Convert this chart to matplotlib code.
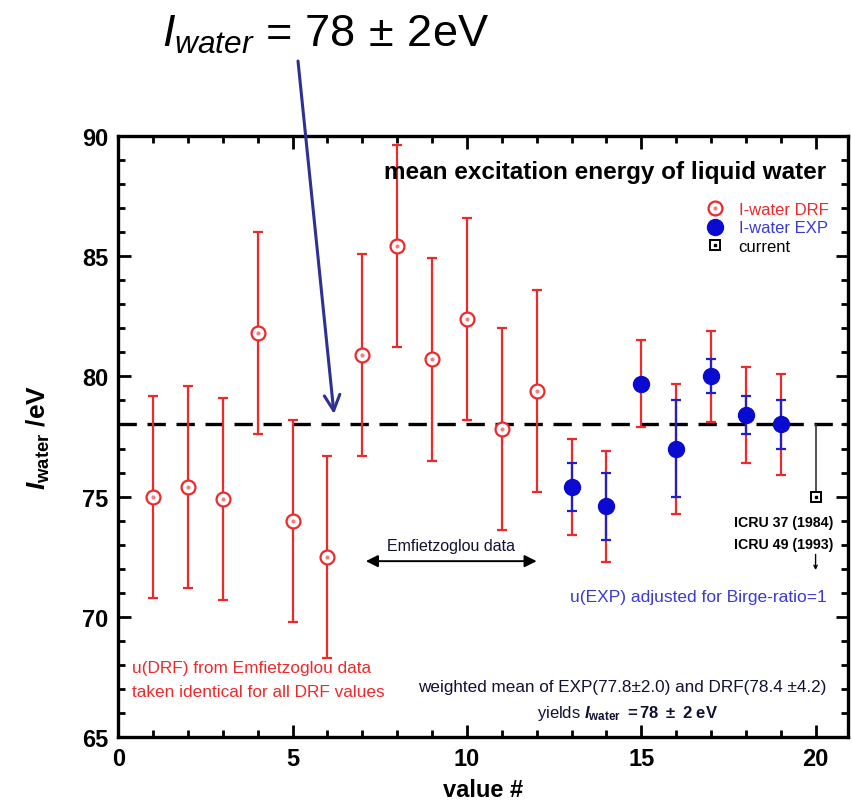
import matplotlib
matplotlib.use("Agg")
import matplotlib.pyplot as plt
from matplotlib.lines import Line2D
import numpy as np

plt.rcParams['font.family'] = ['Liberation Sans', 'DejaVu Sans']
plt.rcParams['mathtext.fontset'] = 'custom'
plt.rcParams['mathtext.rm'] = 'Liberation Sans'
plt.rcParams['mathtext.it'] = 'Liberation Sans:italic'
plt.rcParams['mathtext.bf'] = 'Liberation Sans:bold'
plt.rcParams['mathtext.bfit'] = 'Liberation Sans:italic:bold'

# ---- data ----
drf_x = [1, 2, 3, 4, 5, 6, 7, 8, 9, 10, 11, 12]
drf_y = [75.0, 75.4, 74.9, 81.8, 74.0, 72.5, 80.9, 85.4, 80.7, 82.4, 77.8, 79.4]
drf_err = [4.2] * 12

exp_x = [13, 14, 15, 16, 17, 18, 19]
exp_y = [75.4, 74.6, 79.7, 77.0, 80.0, 78.4, 78.0]
exp_err_total = [2.0, 2.3, 1.8, 2.7, 1.9, 2.0, 2.1]
exp_err_exp = [1.0, 1.4, 0.15, 2.0, 0.7, 0.8, 1.0]

cur_x = [20]
cur_y = [75.0]
cur_err_up = [3.0]

mean_value = 78.0

xticks = [0, 5, 10, 15, 20]
yticks = [65, 70, 75, 80, 85, 90]

RED = '#ec2a2c'
BLUE = '#0a0ad0'
TXTBLUE = '#3a3ad4'

fig = plt.figure(figsize=(8.52, 8.04), dpi=100)
ax = fig.add_axes([118.3/852, 1-738.3/804, (848-118.3)/852, (738.3-136.7)/804])
ax.set_xlim(0, 20.93)
ax.set_ylim(65, 90)

# mean line
ax.axhline(mean_value, color='black', lw=2.4, dashes=(5.5, 3.2), zorder=1)

# DRF
ax.errorbar(drf_x, drf_y, yerr=drf_err, fmt='o', color=RED, ecolor=RED, elinewidth=1.6,
            capsize=3.5, capthick=1.6, mfc='white', mec=RED, mew=1.6, ms=10, zorder=3)
ax.plot(drf_x, drf_y, 'o', color='#f08080', ms=2, zorder=4)

# EXP
ax.errorbar(exp_x, exp_y, yerr=exp_err_total, fmt='none', ecolor=RED, elinewidth=1.6,
            capsize=3.5, capthick=1.6, zorder=2)
ax.errorbar(exp_x, exp_y, yerr=exp_err_exp, fmt='none', ecolor='#2020c8', elinewidth=1.6,
            capsize=3.5, capthick=1.6, zorder=3)
ax.plot(exp_x, exp_y, 'o', color=BLUE, ms=11.5, zorder=4)

# current
ax.errorbar(cur_x, cur_y, yerr=[[0], cur_err_up], fmt='s', color='#222222', ecolor='#333333',
            elinewidth=1.2, capsize=0, mfc='white', mec='black', mew=1.4, ms=7, zorder=3)
ax.plot(cur_x, cur_y, 's', color='black', ms=1.8, zorder=4)

# ticks / spines
for s in ax.spines.values():
    s.set_linewidth(2.4)
ax.set_xticks(xticks)
ax.set_yticks(yticks)
ax.set_xticks(np.arange(0, 21, 1), minor=True)
ax.set_yticks(np.arange(65, 91, 1), minor=True)
ax.tick_params(which='both', direction='in', top=True, right=True, width=2)
ax.tick_params(which='major', length=9, labelsize=17, pad=7)
ax.tick_params(which='minor', length=5)
for lab in ax.get_xticklabels() + ax.get_yticklabels():
    lab.set_fontweight('bold')

ax.set_xlabel('value #', fontsize=17, fontweight='bold', labelpad=6)
ax.set_ylabel(r'$\mathbfit{I}_{\mathbf{water}}$ $\mathbf{/eV}$', fontsize=19, labelpad=22)

# title inside
ax.text(20.3, 88.5, 'mean excitation energy of liquid water', ha='right', va='center',
        fontsize=17.5, fontweight='bold')

# legend
h_drf = (Line2D([], [], ls='none', marker='o', mfc='white', mec=RED, mew=1.6, ms=10),
         Line2D([], [], ls='none', marker='o', color='#f08080', ms=2))
h_exp = Line2D([], [], ls='none', marker='o', color=BLUE, ms=11.5)
h_cur = (Line2D([], [], ls='none', marker='s', mfc='white', mec='black', mew=1.4, ms=7),
         Line2D([], [], ls='none', marker='s', color='black', ms=1.8))
fig.legend([h_drf, h_exp, h_cur], ['I-water DRF', 'I-water EXP', 'current'],
           loc='upper left', bbox_to_anchor=(707/852, 1-203/804), frameon=False,
           fontsize=12, handlelength=1.0, handletextpad=0.9, labelspacing=0.2,
           borderpad=0, borderaxespad=0, labelcolor=[RED, TXTBLUE, 'black'])

# annotations
ax.text(0.4, 67.9, 'u(DRF) from Emfietzoglou data', color=RED, fontsize=12.4, ha='left', va='center')
ax.text(0.4, 66.9, 'taken identical for all DRF values', color=RED, fontsize=12.4, ha='left', va='center')
ax.text(9.55, 72.95, 'Emfietzoglou data', ha='center', va='center', fontsize=11.5, color='#111133')
ax.annotate('', xy=(7.1, 72.32), xytext=(12.0, 72.32),
            arrowprops=dict(arrowstyle='<|-|>', color='black', lw=1.4, mutation_scale=18,
                            shrinkA=0, shrinkB=0))
ax.text(16.64, 70.87, 'u(EXP) adjusted for Birge-ratio=1', color=TXTBLUE, fontsize=12.5,
        ha='center', va='center')
ax.text(19.08, 73.94, 'ICRU 37 (1984)', fontsize=10.2, fontweight='bold', ha='center', va='center')
ax.text(19.08, 73.03, 'ICRU 49 (1993)', fontsize=10.2, fontweight='bold', ha='center', va='center')
ax.annotate('', xy=(20, 71.95), xytext=(20, 72.6),
            arrowprops=dict(arrowstyle='->', color='black', lw=1.0, mutation_scale=6,
                            shrinkA=0, shrinkB=0))
ax.text(14.45, 67.1, 'weighted mean of EXP(77.8\u00b12.0) and DRF(78.4 \u00b14.2)',
        fontsize=12.3, ha='center', va='center', color='#111133')
ax.text(14.6, 66.05, r'yields $\mathbfit{I}_{\mathbf{water}}$ $\mathbf{=78\ \pm\ 2\ eV}$',
        fontsize=12, ha='center', va='center', color='#111133')

# top big label and arrow
fig.text(162/852, 1-47/804, r'$I_{water}$ = 78$\,\pm\,$2eV', fontsize=32.5, ha='left', va='baseline')
fig.add_artist(matplotlib.patches.FancyArrowPatch(
    (298/852, 1-62/804), (334/852, 1-415/804), transform=fig.transFigure,
    arrowstyle='->', mutation_scale=28, color='#2e3192', lw=2.2, shrinkA=0, shrinkB=0))

fig.savefig('out.png', dpi=100)
